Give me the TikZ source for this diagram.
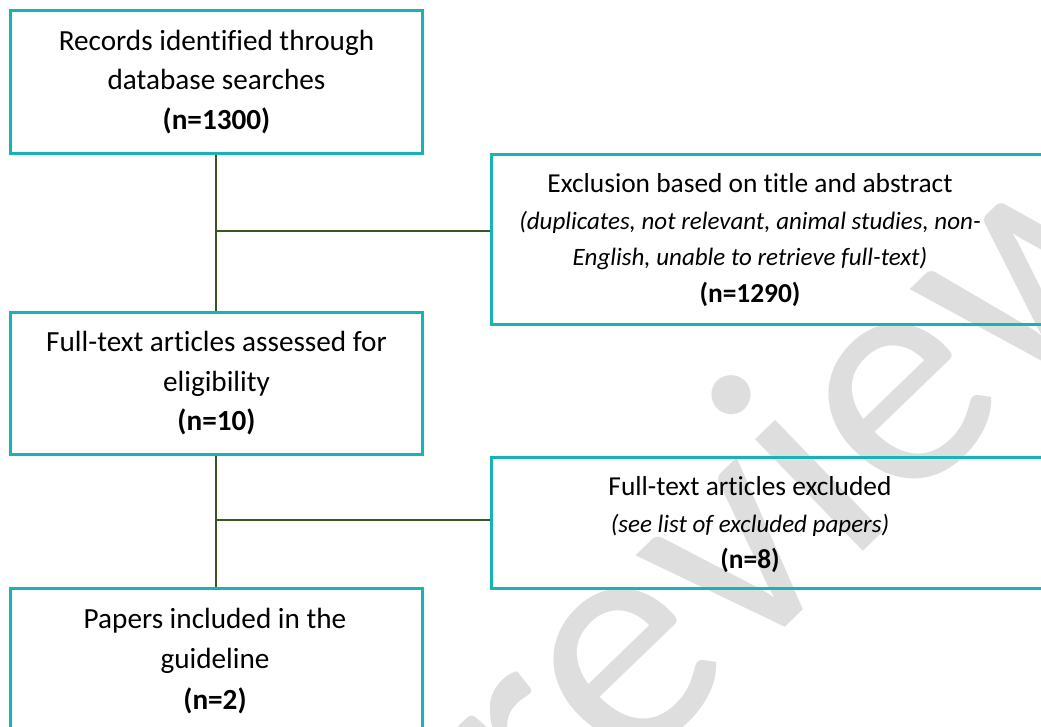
\documentclass[tikz,border=0pt]{standalone}
\usepackage{fontspec}
\setmainfont{Carlito}[Ligatures=NoCommon]
\definecolor{boxteal}{RGB}{22,180,180}
\definecolor{conngreen}{RGB}{56,87,35}
\definecolor{wmgray}{RGB}{222,222,222}
% type sizes for the two kinds of box
\newcommand{\bigtext}{\fontsize{29.2}{39.5}\selectfont}
\newcommand{\smalltext}{\fontsize{27.4}{36.5}\selectfont}
\newcommand{\note}[1]{{\fontsize{25}{36.5}\selectfont\itshape #1}}
\begin{document}
\begin{tikzpicture}[x=1pt,y=-1pt,
  box/.style={draw=boxteal, line width=3pt, inner sep=0pt, anchor=north west,
    align=center, font=\bigtext},
  txt/.style={align=center, inner sep=0pt, font=\smalltext},
  conn/.style={draw=conngreen, line width=2.6pt}]
\useasboundingbox (0,0) rectangle (1041,726);
\fill[white] (0,0) rectangle (1041,726);
\clip (0,0) rectangle (1041,726);

% background watermark
\node[text=wmgray, inner sep=0pt, font=\fontsize{325}{325}\selectfont, rotate=44]
  (wm) at (788,470) {review};

% left column
\node[box, minimum width=412pt, minimum height=143pt] (b1) at (9,9)
  {Records identified through\\database searches\\\textbf{(n=1300)}};
\node[box, minimum width=412pt, minimum height=142pt] (b3) at (9,311)
  {Full-text articles assessed for\\eligibility\\\textbf{(n=10)}};
\node[box, minimum width=412pt, minimum height=170pt] (b5) at (9,587) {};
\node[txt, font=\fontsize{29.2}{40.5}\selectfont] (b5t) at (215,661)
  {Papers included in the\\guideline\\\textbf{(n=2)}};

% right column (boxes run past the right edge)
\node[box, minimum width=570pt, minimum height=170pt] (b2) at (490,153) {};
\node[txt] (b2t) at (750,240)
  {Exclusion based on title and abstract\\
   \note{(duplicates, not relevant, animal studies, non-}\\
   \note{English, unable to retrieve full-text)}\\
   \textbf{(n=1290)}};
\node[box, minimum width=570pt, minimum height=131pt] (b4) at (490,456) {};
\node[txt] (b4t) at (750,525)
  {Full-text articles excluded\\
   \note{(see list of excluded papers)}\\
   \textbf{(n=8)}};

% connectors
\coordinate (j1) at (216,231);
\coordinate (j2) at (216,520);
\draw[conn] (b1.south -| j1) -- (b3.north -| j1);
\draw[conn] (j1) -- (j1 -| b2.west);
\draw[conn] (b3.south -| j2) -- (b5.north -| j2);
\draw[conn] (j2) -- (j2 -| b4.west);
\end{tikzpicture}
\end{document}
